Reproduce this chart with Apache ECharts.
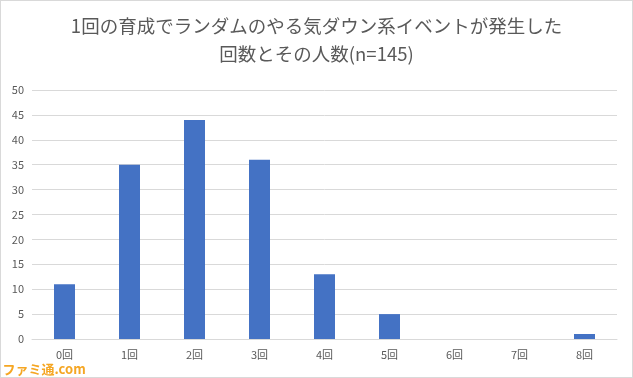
<!DOCTYPE html>
<html><head><meta charset="utf-8">
<script src="https://cdn.jsdelivr.net/npm/echarts@6/dist/echarts.min.js"></script>
<style>html,body{margin:0;padding:0;background:#fff}#c{width:633px;height:378px;box-sizing:border-box;border:1px solid #d9d9d9}</style>
</head><body><div id="c"></div>
<script>
var categories = ['0回','1回','2回','3回','4回','5回','6回','7回','8回'];
var counts = [11, 35, 44, 36, 13, 5, 0, 0, 1];
var yTicks = [0, 5, 10, 15, 20, 25, 30, 35, 40, 45, 50];
var titleLines = ['1回の育成でランダムのやる気ダウン系イベントが発生した', '回数とその人数(n=145)'];
var watermark = 'ファミ通.com';

var chart = echarts.init(document.getElementById('c'));
chart.setOption({
  animation: false,
  textStyle: {fontFamily: '"Noto Sans CJK JP", sans-serif'},
  title: [
    {text: titleLines[0], left: 'center', top: 11, textStyle: {fontSize: 18.5, fontWeight: 'normal', color: '#595959', fontFamily: '"Noto Sans CJK JP", sans-serif'}},
    {text: titleLines[1], left: 'center', top: 39, textStyle: {fontSize: 18.5, fontWeight: 'normal', color: '#595959', fontFamily: '"Noto Sans CJK JP", sans-serif'}}
  ],
  graphic: [{type: 'text', left: 1, bottom: 1, style: {text: watermark, fill: '#f5a623', stroke: '#fff', lineWidth: 1, font: 'bold 13px "Noto Sans CJK JP", sans-serif'}}],
  grid: {left: 31, right: 15, top: 89, bottom: 38},
  xAxis: {
    type: 'category', data: categories,
    axisLine: {lineStyle: {color: '#d9d9d9'}},
    axisTick: {show: false},
    axisLabel: {color: '#595959', fontSize: 11, margin: 10}
  },
  yAxis: {
    type: 'value', min: yTicks[0], max: yTicks[yTicks.length-1], interval: 5,
    axisLine: {show: false}, axisTick: {show: false},
    splitLine: {lineStyle: {color: '#d9d9d9'}},
    axisLabel: {color: '#595959', fontSize: 11, margin: 8}
  },
  series: [{type: 'bar', data: counts, barWidth: 21, itemStyle: {color: '#4472c4'}}]
});
</script></body></html>
